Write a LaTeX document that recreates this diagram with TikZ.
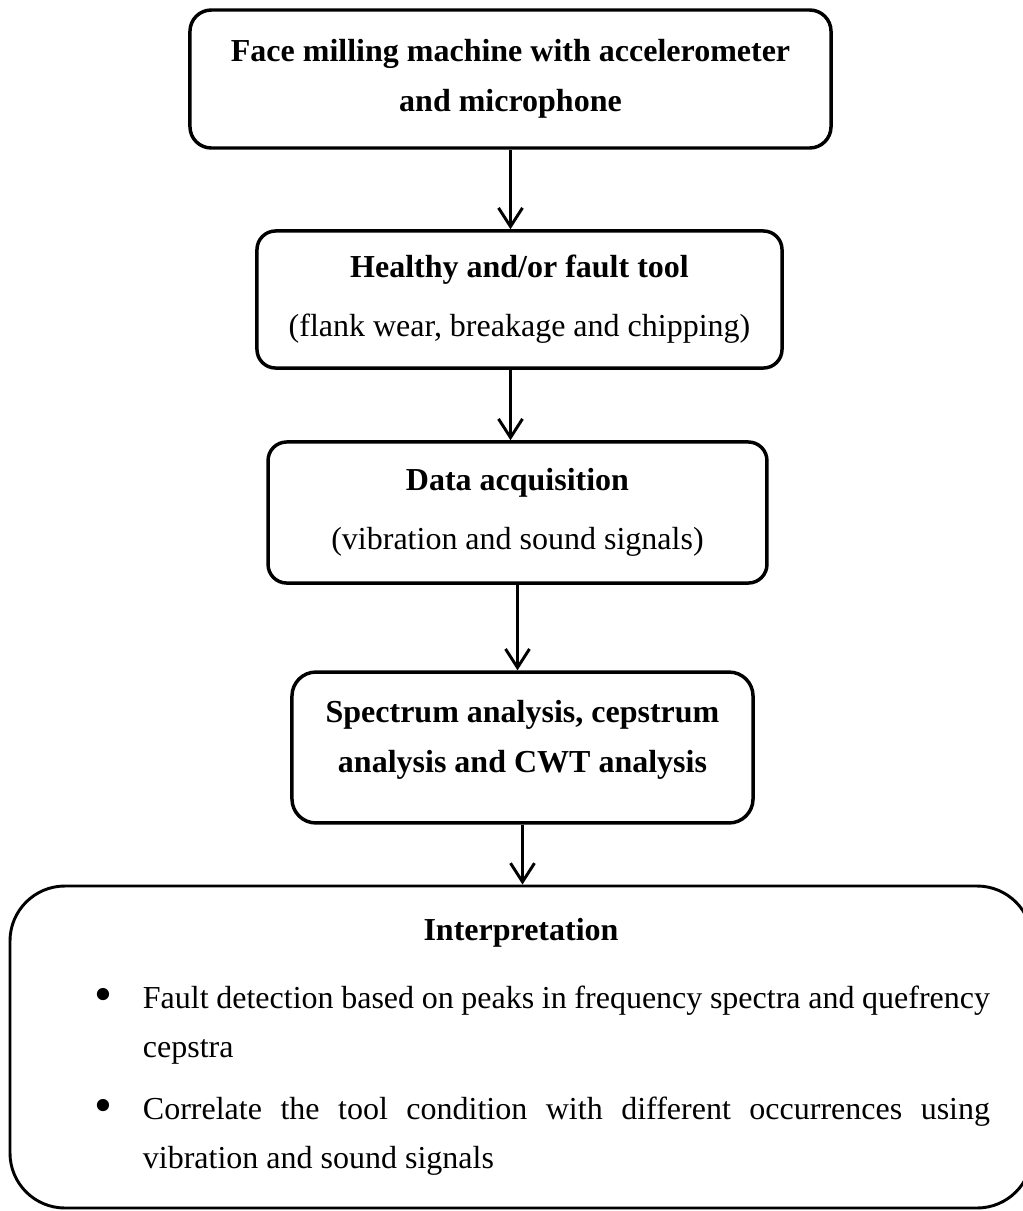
\documentclass[tikz,border=0pt]{standalone}
\usepackage{fontspec}
\setmainfont{Liberation Serif}
\usetikzlibrary{arrows.meta}

\newcommand{\bigbullet}{\raisebox{-1pt}{\scalebox{1.6}{\textbullet}}}

\begin{document}
\begin{tikzpicture}[x=0.375pt,y=-0.375pt,
  box/.style={draw=black, line width=1.3pt, rounded corners=8pt, align=center,
    inner sep=0pt, font=\fontsize{12pt}{18.75pt}\selectfont},
  flow/.style={draw=black, line width=1.1pt,
    -{Straight Barb[length=7pt,width=9pt,line width=1.1pt]}}]
\useasboundingbox (0,0) rectangle (1022,1211);

% process boxes, top to bottom
\node[box, minimum width=240.4pt, minimum height=51.75pt] (b1) at (510.5,79)
  {\textbf{Face milling machine with accelerometer}\\\textbf{and microphone}};
\node[box, rounded corners=7pt, minimum width=196.9pt, minimum height=51.4pt] (b2) at (519.5,299.5)
  {\textbf{Healthy and/or fault tool}\\[3.35pt](flank wear, breakage and chipping)};
\node[box, rounded corners=7pt, minimum width=187.1pt, minimum height=52.9pt] (b3) at (517.5,512.5)
  {\textbf{Data acquisition}\\[3.35pt](vibration and sound signals)};
\node[box, rounded corners=9pt, minimum width=172.9pt, minimum height=56.6pt] (b4) at (522.5,747.5)
  {\textbf{Spectrum analysis, cepstrum}\\\textbf{analysis and CWT analysis}\rule[-8.6pt]{0pt}{0pt}};

% interpretation box with bulleted findings
\node[box, line width=1.1pt, rounded corners=20.6pt, minimum width=383.25pt, minimum height=120.75pt,
  text width=351.75pt, inner xsep=15.75pt, align=justify,
  font=\fontsize{12pt}{18.4pt}\selectfont] (b5) at (521,1047)
  {{\centering\textbf{Interpretation}\par}
   \vspace{7.1pt}
   \noindent\hangindent=34.1pt\hangafter=1
   \hbox to 34.1pt{\hskip16pt\bigbullet\hfil}Fault detection based on peaks in frequency spectra and quefrency\linebreak cepstra\par
   \vspace{4.85pt}
   \noindent\hangindent=34.1pt\hangafter=1
   \hbox to 34.1pt{\hskip16pt\bigbullet\hfil}Correlate the tool condition with different occurrences using\linebreak vibration and sound signals\par};

% connectors
\draw[flow] (b1.south) -- (b1.south |- b2.north);
\draw[flow] (b1.south |- b2.south) -- (b1.south |- b3.north);
\draw[flow] (b3.south) -- (b3.south |- b4.north);
\draw[flow] (b4.south) -- (b4.south |- b5.north);
\end{tikzpicture}
\end{document}
